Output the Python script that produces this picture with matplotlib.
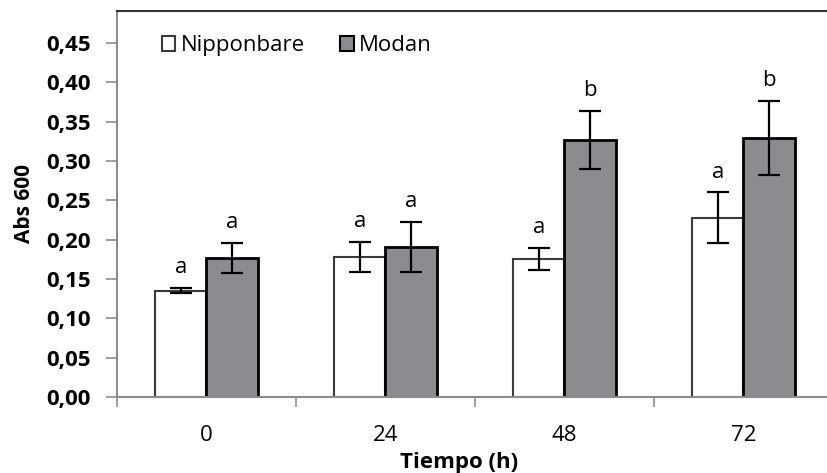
import numpy as np
import matplotlib.pyplot as plt

# Data.
times = ['0', '24', '48', '72']
nipponbare = [0.135, 0.178, 0.176, 0.228]
nipponbare_err = [0.003, 0.019, 0.014, 0.032]
modan = [0.177, 0.191, 0.327, 0.329]
modan_err = [0.019, 0.032, 0.037, 0.047]
nipponbare_letters = ['a', 'a', 'a', 'a']
modan_letters = ['a', 'a', 'b', 'b']

BAR_W = 0.287
LETTER_GAP = 0.026
FONT = ['Open Sans', 'DejaVu Sans']

plt.rcParams['font.family'] = FONT

fig = plt.figure(figsize=(8.28, 4.73), dpi=100)
ax = fig.add_axes([117 / 828, 1 - 397 / 473, 716 / 828, 386 / 473])

x = np.arange(len(times))
ax.bar(x - BAR_W / 2, nipponbare, BAR_W, color='white', edgecolor='#3a3a3a',
       linewidth=1.5, label='Nipponbare', zorder=2)
ax.bar(x + BAR_W / 2, modan, BAR_W, color='#8a8c90', edgecolor='black',
       linewidth=2, label='Modan', zorder=2)
ax.errorbar(x - BAR_W / 2, nipponbare, yerr=nipponbare_err, fmt='none',
            ecolor='black', elinewidth=1.6, capsize=8, capthick=1.6, zorder=3)
ax.errorbar(x + BAR_W / 2, modan, yerr=modan_err, fmt='none',
            ecolor='black', elinewidth=1.6, capsize=8, capthick=1.6, zorder=3)

for i in range(len(times)):
    ax.text(x[i] - BAR_W / 2, nipponbare[i] + nipponbare_err[i] + LETTER_GAP,
            nipponbare_letters[i], ha='center', va='center', fontsize=16)
    ax.text(x[i] + BAR_W / 2, modan[i] + modan_err[i] + LETTER_GAP,
            modan_letters[i], ha='center', va='center', fontsize=16)

ax.set_xlim(-0.5, len(times) - 0.5)
ax.set_ylim(0, 0.4907)
yt = np.arange(0, 0.451, 0.05)
ax.set_yticks(yt)
ax.set_yticklabels([('%.2f' % v).replace('.', ',') for v in yt],
                   fontsize=16, fontweight='bold')
ax.set_xticks(x)
ax.set_xticklabels(times, fontsize=16)
ax.set_xticks(np.arange(len(times)) - 0.5, minor=True)
ax.tick_params(axis='x', which='major', length=0, pad=20)
ax.tick_params(axis='x', which='minor', length=7, width=1.2, color='#8c8c8c')
ax.tick_params(axis='y', length=8, width=1.2, color='#8c8c8c', pad=11)

ax.spines['left'].set_color('#8c8c8c')
ax.spines['left'].set_linewidth(1.5)
ax.spines['bottom'].set_color('#8c8c8c')
ax.spines['bottom'].set_linewidth(1.5)
ax.spines['top'].set_color('#333333')
ax.spines['top'].set_linewidth(1.5)
ax.spines['right'].set_visible(False)

ax.set_ylabel('Abs 600', fontsize=15, fontweight='bold')
ax.yaxis.set_label_coords(-82 / 716, 0.5)
ax.set_xlabel('Tiempo (h)', fontsize=16, fontweight='bold')
ax.xaxis.set_label_coords((459 - 117) / 716, -55 / 386)

leg = ax.legend(loc='upper left', bbox_to_anchor=(36 / 716, 0.96), ncol=2,
                frameon=False, fontsize=16, handlelength=0.6, handleheight=0.6,
                handletextpad=0.25, columnspacing=1.6, borderaxespad=0)
for h in leg.legend_handles:
    h.set_linewidth(1.5)

fig.savefig('out.png', dpi=100)
